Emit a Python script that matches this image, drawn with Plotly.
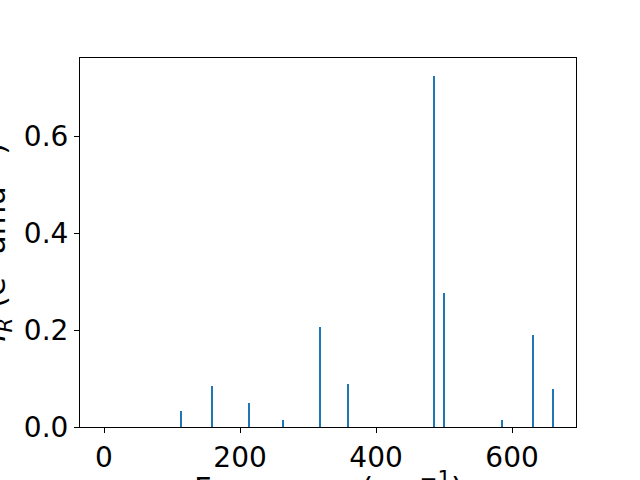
import plotly.graph_objects as go

frequencies = [113.0, 159.1, 214.0, 263.7, 317.8, 359.0, 485.0, 499.9, 585.3, 631.0, 660.4]
intensities = [0.033, 0.084, 0.049, 0.014, 0.207, 0.088, 0.723, 0.277, 0.014, 0.189, 0.078]
x_ticks = [0, 200, 400, 600]
y_ticks = [0.0, 0.2, 0.4, 0.6]
x_label = "Frequency (cm<sup>−1</sup>)"
y_label = "<i>I</i><sub><i>R</i></sub> (e<sup>2</sup> amu<sup>−1</sup>)"

FONT = "DejaVu Sans"
FS = 28
LFS = 30.5
fig = go.Figure()
fig.add_trace(go.Bar(x=frequencies, y=intensities, width=2.0,
                     marker=dict(color="#1f77b4", line=dict(width=0))))

axis_common = dict(showline=True, linecolor="black", linewidth=1.1, mirror=True,
                   ticks="outside", ticklen=5, tickwidth=1.1, tickcolor="black",
                   showgrid=False, zeroline=False, automargin=False,
                   tickfont=dict(family=FONT, size=FS, color="black"))
fig.update_layout(
    width=640, height=480, autosize=False,
    margin=dict(l=80, r=64, t=58, b=53),
    paper_bgcolor="white", plot_bgcolor="white",
    showlegend=False, bargap=0,
    xaxis=dict(range=[-35.3, 694], tickvals=x_ticks, **axis_common),
    yaxis=dict(range=[0, 0.761], tickvals=y_ticks, tickformat=".1f", **axis_common),
    font=dict(family=FONT, size=FS, color="black"),
)
fig.add_annotation(text=x_label, xref="paper", yref="paper", x=0.5, y=0,
                   xanchor="center", yanchor="top", yshift=-37, showarrow=False,
                   font=dict(family=FONT, size=LFS, color="black"))
fig.add_annotation(text=y_label, xref="paper", yref="paper", x=0, y=0.5,
                   xanchor="right", yanchor="middle", xshift=-62, textangle=-90,
                   showarrow=False, font=dict(family=FONT, size=LFS, color="black"))
fig.write_html("out.html", config={"displayModeBar": False, "responsive": False},
               post_script="document.body.style.margin='0';")
